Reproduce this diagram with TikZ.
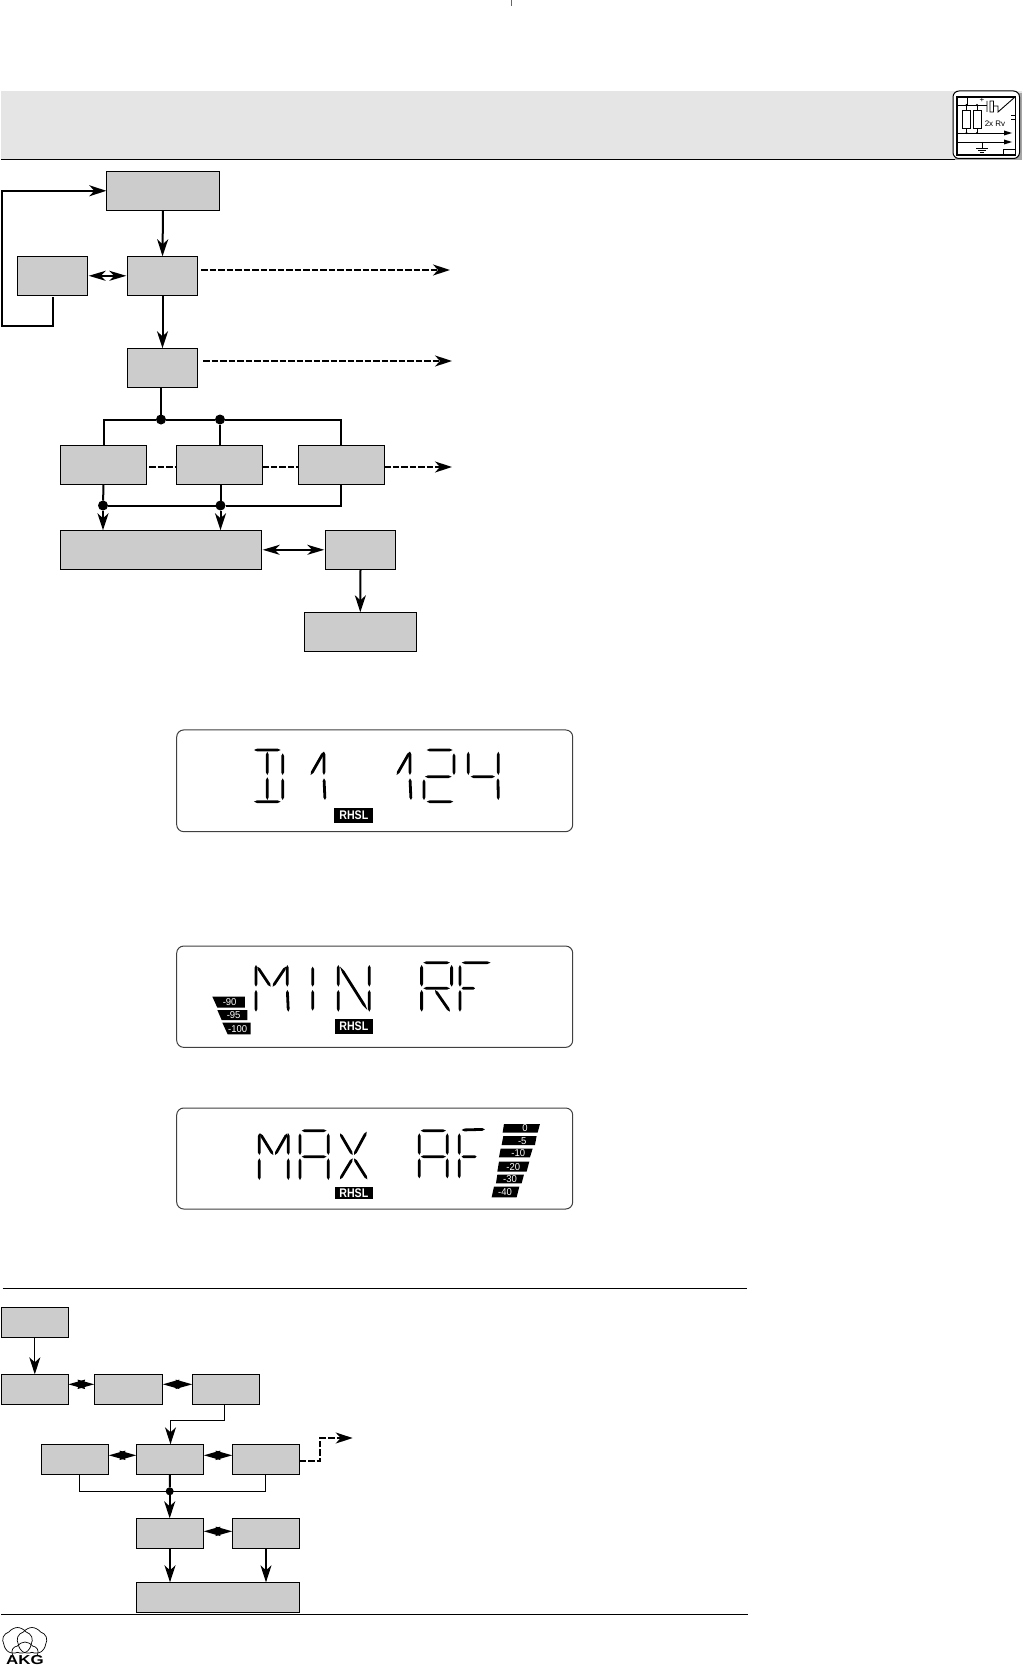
\documentclass[tikz,border=0pt]{standalone}
\usepackage{fontspec}
\setmainfont{Liberation Sans}
\usetikzlibrary{arrows.meta,calc,shapes.symbols}
\definecolor{boxgray}{HTML}{CCCCCC}
\definecolor{headgray}{HTML}{E5E5E5}
\tikzset{
  gbox/.style={draw=black,fill=boxgray,line width=1pt,inner sep=0pt,outer sep=0pt},
  tipbig/.style={-{Stealth[length=17pt,width=11pt,inset=5pt]}},
  tipdbl/.style={{Stealth[length=17pt,width=10pt,inset=5pt]}-{Stealth[length=17pt,width=10pt,inset=5pt]}},
  tipsmall/.style={{Stealth[length=16.5pt,width=9pt,inset=1pt]}-{Stealth[length=16.5pt,width=9pt,inset=1pt]}},
  strong/.style={line width=2pt},
  thin line/.style={line width=1.1pt},
  dash line/.style={line width=1.7pt,dash pattern=on 6.5pt off 2pt},
  dot/.style={circle,fill=black,inner sep=0pt,minimum size=10pt,outer sep=0pt},
  lcd/.style={rounded corners=7pt,draw=black!75,line width=1pt,fill=white},
  tag/.style={text=white,inner sep=0pt,xscale=.85,font=\fontsize{12.5}{12.5}\selectfont\bfseries},
  level/.style={text=white,inner sep=0pt,xscale=.95,font=\fontsize{10}{10}\selectfont},
}
\newcommand\gb[5]{\node[gbox,minimum width={(#4-#2)*1pt},minimum height={(#5-#3)*1pt}] (#1) at ({(#2+#4)/2},{(#3+#5)/2}) {};}
\newcommand\segs[1]{\foreach \xa/\ya/\xb/\yb in {#1}{%
  \coordinate (sa) at (\xa,\ya);\coordinate (sb) at (\xb,\yb);
  \fill[black] (sa) -- ($(sa)!.12!(sb)!1.4pt!90:(sb)$) -- ($(sa)!.88!(sb)!1.4pt!90:(sb)$) -- (sb)
     -- ($(sa)!.88!(sb)!1.4pt!-90:(sb)$) -- ($(sa)!.12!(sb)!1.4pt!-90:(sb)$) -- cycle;}}
\begin{document}
\begin{tikzpicture}[x=1pt,y=-1pt]
\useasboundingbox (0,0) rectangle (1022,1669);
\fill[white] (0,0) rectangle (1022,1669);
% top tick
\coordinate (tk1) at (511,0); \coordinate (tk2) at (511,6);
\draw[black!60,line width=.8pt] (tk1) -- (tk2);
% header band
\fill[headgray] (1,91) rectangle (1022,159);
\draw[line width=1pt] (1,159.5) -- (1022,159.5);
% icon
\fill[black!35] (955,93) rectangle (1022,160);
\draw[rounded corners=6pt,line width=1pt,fill=white] (953,91) rectangle (1019.5,158.5);
\draw[line width=1.6pt] (957,97) rectangle (1015.5,155);
\begin{scope}[line width=.9pt]
  \draw (957,105) -- (987,105);
  \draw (967,97) -- (967,105);
  \draw (966.5,105) -- (966.5,133) (977,105) -- (977,133);
  \draw[fill=white] (962,110) rectangle (970.5,128);
  \draw[fill=white] (973,110) rectangle (981,128);
  \draw (957,133) -- (1006,133);
  \fill (1012,133) -- (1004,130.5) -- (1004,135.5) -- cycle;
  \draw (957,142) -- (1006,142);
  \fill (1012,142) -- (1004,139.5) -- (1004,144.5) -- cycle;
  \fill (966.5,105) circle[radius=1.2] (977,105) circle[radius=1.2] (966.5,133) circle[radius=1.2] (977,133) circle[radius=1.2];
  \draw (987,101) -- (987,112) (990,101) rectangle (993.5,112) (993.5,106) -- (998,106) -- (998,112) -- (1015,97);
  \draw (1011,115) -- (1015.5,115) (1011,119) -- (1015.5,119);
  \draw (982,142) -- (982,148) (976,148) -- (988,148) (978,150) -- (986,150) (980,152) -- (984,152);
  \draw (1003,149) rectangle (1015.5,155);
\end{scope}
\node[inner sep=0pt,font=\fontsize{8}{8}\selectfont] (iconlab) at (995,124) {2x Rv};
\node[inner sep=0pt,font=\fontsize{8}{8}\selectfont] (iconplus) at (982,100) {+};

% upper flow chart
\gb{A}{106.3}{171.3}{219.7}{210.3}
\gb{B}{17.3}{256.3}{87.7}{295.3}
\gb{C}{127.3}{256.3}{197.7}{295.3}
\gb{D}{127.3}{348.3}{197.7}{387.3}
\gb{RA}{60.3}{445.3}{146.7}{484.3}
\gb{RB}{176.3}{445.3}{262.3}{484.3}
\gb{RC}{298.3}{445.3}{384.3}{484.3}
\gb{W}{60.3}{530.3}{261.7}{569.3}
\gb{X}{325.3}{530.3}{395.7}{569.3}
\gb{Y}{304.3}{612.3}{416.3}{651.3}
\draw[strong,tipbig] (A.south) -- (C.north);
\draw[strong,tipbig] (C.south) -- (D.north);
\draw[strong,tipdbl] ($(B.east)+(1,0)$) -- ($(C.west)+(-1,0)$);
\coordinate (fb1) at (2,326);
\draw[strong,tipbig] ($(B.south)+(0,2)$) |- (fb1) |- (A.west);
\coordinate (ca) at (201,270); \coordinate (cb) at (450,270);
\draw[dash line,tipbig] (ca) -- (cb);
\coordinate (da) at (203,361); \coordinate (db) at (452,361);
\draw[dash line,tipbig] (da) -- (db);
\coordinate (r1a) at (149,467); \coordinate (r1b) at (176.3,467);
\coordinate (r2a) at (262.3,467); \coordinate (r2b) at (298.3,467);
\coordinate (r3a) at (384.3,467); \coordinate (r3b) at (452,467);
\draw[dash line] (r1a) -- (r1b);
\draw[dash line] (r2a) -- (r2b);
\draw[dash line,tipbig] (r3a) -- (r3b);
\node[dot] (bt1) at (161,419.5) {};
\node[dot] (bt2) at (220,419.5) {};
\node[dot] (bb1) at (103,505.5) {};
\node[dot] (bb2) at (220.5,505.5) {};
\draw[strong] (bt1 |- D.south) -- (bt1);
\draw[strong] (RA.north) |- (bt1) -- (bt2) -| (RC.north);
\draw[strong] (bt2) -- (bt2 |- RB.north);
\draw[strong] (RA.south) -- (bb1);
\draw[strong] (bb2 |- RB.south) -- (bb2);
\draw[strong] (RC.south) |- (bb2) -- (bb1);
\draw[strong,tipbig] (bb1) -- (bb1 |- W.north);
\draw[strong,tipbig] (bb2) -- (bb2 |- W.north);
\draw[strong,tipdbl] ($(W.east)+(1,0)$) -- ($(X.west)+(-1,0)$);
\draw[strong,tipbig] (X.south) -- (Y.north);

% LCD 1
\node[lcd,minimum width=396pt,minimum height=101.7pt,inner sep=0pt] (lcdA) at (374.7,780.8) {};
\begin{scope}[shift={(160,720)},x=.3333pt,y=-.3333pt]
\segs{282/90/362/90,282/245/362/245,322/95/322/165,322/172/322/240,368/100/368/165,368/175/368/240,
452/165/492/95,492/95/492/165,492/175/495/240,
710/165/750/95,750/95/750/165,750/175/753/240,
800/90/878/90,882/100/882/165,795/170/875/170,792/178/792/240,800/245/880/245,
925/95/925/165,932/170/1005/170,1015/95/1015/165,1014/175/1015/240}
\fill (523,263) rectangle (640,310);
\node[tag] (tagA) at (581.5,287) {RHSL};
\end{scope}

% LCD 2
\node[lcd,minimum width=396pt,minimum height=101.3pt,inner sep=0pt] (lcdB) at (374.7,996.7) {};
\begin{scope}[shift={(160,940)},x=.3333pt,y=-.3333pt]
\segs{288/75/288/140,288/150/288/215,382/75/382/140,382/150/385/215,292/80/332/140,378/80/338/140,
458/80/458/140,458/150/458/212,
535/75/535/140,535/150/535/215,628/75/628/140,628/150/628/215,540/80/622/210,
790/68/870/68,785/75/785/140,785/150/785/215,875/75/875/140,790/145/870/145,825/150/870/215,
905/68/992/68,900/75/900/140,900/150/900/215,905/145/945/145}
\fill (525,238) rectangle (638,282);
\node[tag] (tagB) at (581.5,260) {RHSL};
\fill (157,170) -- (255,170) -- (255,203) -- (172,203) -- cycle;
\fill (172,210) -- (262,210) -- (262,240) -- (185,240) -- cycle;
\fill (187,248) -- (272,248) -- (272,283) -- (203,283) -- cycle;
\node[level] (lv90) at (209,187) {-90};
\node[level] (lv95) at (221,225) {-95};
\node[level] (lv100) at (233,266) {-100};
\end{scope}

% LCD 3
\node[lcd,minimum width=396pt,minimum height=101pt,inner sep=0pt] (lcdC) at (374.7,1158.5) {};
\begin{scope}[shift={(160,1100)},x=.3333pt,y=-.3333pt]
\segs{298/100/298/165,298/175/298/240,385/100/385/165,385/175/385/240,300/100/340/165,382/100/345/165,
425/92/500/92,420/100/420/165,420/175/420/240,505/100/505/165,505/175/505/240,425/170/500/170,
540/100/578/165,620/95/582/165,578/175/540/238,582/175/622/238,
782/92/858/92,778/100/778/165,778/175/778/235,862/100/862/165,862/175/862/235,782/170/858/170,
905/90/975/88,898/100/898/165,898/175/898/235,905/170/950/170}
\fill (525,262) rectangle (638,298);
\node[tag] (tagC) at (581.5,280) {RHSL};
\fill (1032,72) -- (1140,72) -- (1133,98) -- (1028,98) -- cycle;
\fill (1030,108) -- (1130,108) -- (1125,135) -- (1025,135) -- cycle;
\fill (1022,146) -- (1118,146) -- (1110,172) -- (1017,172) -- cycle;
\fill (1017,185) -- (1108,185) -- (1100,215) -- (1012,215) -- cycle;
\fill (1012,224) -- (1092,224) -- (1085,250) -- (1008,250) -- cycle;
\fill (1002,260) -- (1078,260) -- (1070,292) -- (995,292) -- cycle;
\node[level] (lv0) at (1095,85) {0};
\node[level] (lv5) at (1087,122) {-5};
\node[level] (lv10) at (1075,160) {-10};
\node[level] (lv20) at (1060,200) {-20};
\node[level] (lv30) at (1050,238) {-30};
\node[level] (lv40) at (1035,277) {-40};
\end{scope}

% lower flow chart
\draw[line width=1pt] (2.5,1288.5) -- (747,1288.5);
\draw[line width=1pt] (1,1614.7) -- (748,1614.7);
\gb{a}{1.3}{1307.3}{68.3}{1337.3}
\gb{b}{1.3}{1374.3}{68.3}{1404.3}
\gb{c}{94.3}{1374.3}{162.7}{1404.3}
\gb{d}{192.3}{1374.3}{259.7}{1404.3}
\gb{e}{41.3}{1444.3}{108.7}{1474.3}
\gb{f}{136.3}{1444.3}{203.7}{1474.3}
\gb{g}{232.3}{1444.3}{299.7}{1474.3}
\gb{h}{136.3}{1518.3}{203.7}{1548.3}
\gb{i}{232.3}{1518.3}{299.7}{1548.3}
\gb{j}{136.3}{1582.3}{299.7}{1612.3}
\draw[thin line,tipbig] (a.south) -- (b.north);
\draw[strong,tipsmall] ($(b.east)+(0,-5)$) -- ($(c.west)+(0,-5)$);
\draw[strong,tipsmall] ($(c.east)+(0,-5)$) -- ($(d.west)+(0,-5)$);
\coordinate (dc) at (170.5,1420.3);
\draw[thin line] (224.7,1404.3) |- (dc);
\draw[thin line,tipbig] (dc) -- (dc |- f.north);
\draw[strong,tipsmall] ($(e.east)+(0,-4)$) -- ($(f.west)+(0,-4)$);
\draw[strong,tipsmall] ($(f.east)+(0,-4)$) -- ($(g.west)+(0,-4)$);
\coordinate (ga) at (299.7,1460.7); \coordinate (gb) at (320,1438); \coordinate (gc) at (352.7,1438);
\draw[dash line,tipbig] (ga) -| (gb) -- (gc);
\node[dot,minimum size=8pt] (fd) at (169.7,1491.3) {};
\coordinate (el) at (79.3,1491.3); \coordinate (gl) at (265.3,1491.3);
\draw[thin line] (el |- e.south) |- (gl) -- (gl |- g.south);
\draw[strong] (f.south) -- (fd);
\draw[strong,tipbig] (fd) -- (fd |- h.north);
\draw[strong,tipsmall] ($(h.east)+(0,-2)$) -- ($(i.west)+(0,-2)$);
\draw[strong,tipbig] (h.south) -- (h.south |- j.north);
\draw[thin line,tipbig] (i.south) -- (i.south |- j.north);

% logo
\begin{scope}[line width=.7pt]
\node[cloud,draw,cloud puffs=5,cloud puff arc=110,aspect=1.1,minimum width=30pt,minimum height=27pt,inner sep=0pt] (cl1) at (17.5,1641) {};
\node[cloud,draw,cloud puffs=5,cloud puff arc=110,aspect=1.1,minimum width=30pt,minimum height=27pt,inner sep=0pt] (cl2) at (32,1641) {};
\node[cloud,draw,cloud puffs=5,cloud puff arc=110,aspect=1.3,minimum width=26pt,minimum height=20pt,inner sep=0pt] (cl3) at (25,1652) {};
\end{scope}
\node[fill=white,inner sep=.5pt,xscale=1.3,font=\fontsize{13}{13}\selectfont\bfseries] (logo) at (25,1660) {AKG};
\end{tikzpicture}
\end{document}
